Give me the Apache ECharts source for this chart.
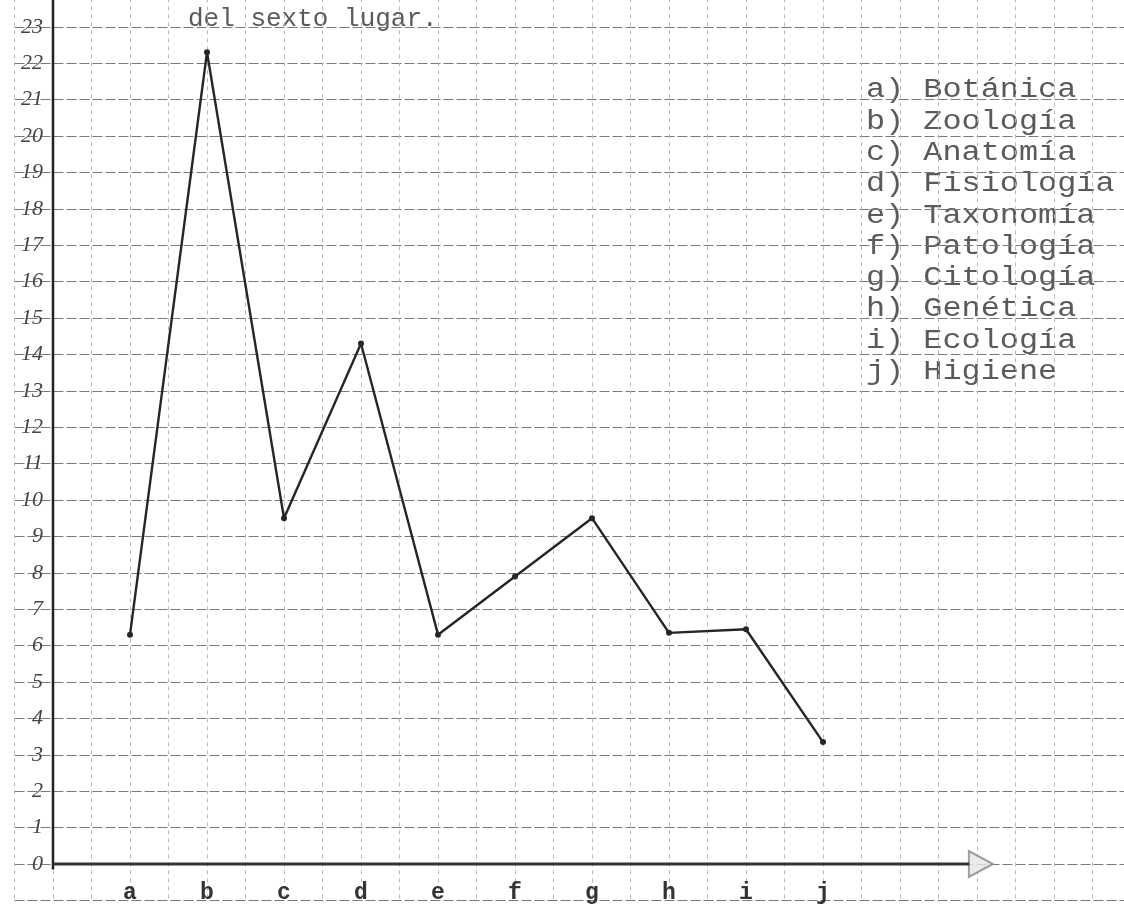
<!DOCTYPE html>
<html>
<head>
<meta charset="utf-8">
<script src="https://cdn.jsdelivr.net/npm/echarts@6/dist/echarts.min.js"></script>
<style>
  html, body { margin: 0; padding: 0; background: #ffffff; }
  #chart { width: 1124px; height: 907px; }
</style>
</head>
<body>
<div id="chart"></div>
<script>
// ---- data ----
const categories = ['a', 'b', 'c', 'd', 'e', 'f', 'g', 'h', 'i', 'j'];
const values = [6.3, 22.3, 9.5, 14.3, 6.3, 7.9, 9.5, 6.35, 6.45, 3.35];
const yTickLabels = ['0','1','2','3','4','5','6','7','8','9','10','11','12','13','14','15','16','17','18','19','20','21','22','23'];
const legendItems = ['a) Botánica', 'b) Zoología', 'c) Anatomía', 'd) Fisiología', 'e) Taxonomía',
                     'f) Patología', 'g) Citología', 'h) Genética', 'i) Ecología', 'j) Higiene'];
const titleText = 'del sexto lugar.';

// ---- chart ----
const chart = echarts.init(document.getElementById('chart'), null, { renderer: 'canvas' });

const lineData = categories.map((c, i) => [i + 1, values[i]]);

const option = {
  backgroundColor: '#ffffff',
  animation: false,
  grid: [
    // background graph paper (covers whole page)
    { left: 14.5, right: -7, top: -9.6, bottom: 6.6, containLabel: false, outerBoundsMode: 'none', z: 0 },
    // main plotting grid, origin at the drawn axes
    { left: 53, right: -7, top: -9.6, bottom: 43, containLabel: false, outerBoundsMode: 'none', z: 2 }
  ],
  xAxis: [
    {
      gridIndex: 0, type: 'value', min: -0.5, max: 14, interval: 0.5,
      axisLine: { show: false }, axisTick: { show: false }, axisLabel: { show: false },
      splitLine: { show: true, lineStyle: { color: '#b8b8b8', width: 1, type: [4, 4] } }
    },
    {
      gridIndex: 1, type: 'value', min: 0, max: 14, interval: 0.5,
      axisLine: { show: false }, axisTick: { show: false },
      splitLine: { show: false },
      axisLabel: {
        margin: 18,
        fontFamily: 'Liberation Mono', fontSize: 23, fontWeight: 'bold', color: '#333',
        formatter: v => (Number.isInteger(v) && v >= 1 && v <= categories.length) ? categories[v - 1] : ''
      }
    }
  ],
  yAxis: [
    {
      gridIndex: 0, type: 'value', min: -1, max: 24, interval: 1,
      axisLine: { show: false }, axisTick: { show: false }, axisLabel: { show: false },
      splitLine: { show: true, lineStyle: { color: '#7a7a7a', width: 1, type: [10, 3] } }
    },
    {
      gridIndex: 1, type: 'value', min: 0, max: 24, interval: 1,
      axisLine: { show: false }, axisTick: { show: false },
      splitLine: { show: false },
      axisLabel: {
        margin: 10,
        fontFamily: 'Liberation Serif', fontStyle: 'italic', fontSize: 22, color: '#444',
        formatter: v => (Number.isInteger(v) && v >= 0 && v < yTickLabels.length) ? yTickLabels[v] : ''
      }
    }
  ],
  series: [
    { // y axis line
      type: 'line', xAxisIndex: 1, yAxisIndex: 1, data: [[0, -0.15], [0, 24]], symbol: 'none', silent: true,
      clip: false, lineStyle: { color: '#222', width: 2.5 }
    },
    { // x axis line
      type: 'line', xAxisIndex: 1, yAxisIndex: 1, data: [[0, 0], [11.9, 0]], symbol: 'none', silent: true,
      clip: false, lineStyle: { color: '#333', width: 3 }
    },
    { // arrow head
      type: 'scatter', xAxisIndex: 1, yAxisIndex: 1, data: [[12.05, 0]], symbol: 'triangle',
      symbolSize: [26, 24], symbolRotate: -90, silent: true, clip: false,
      itemStyle: { color: '#e6e6e6', borderColor: '#888', borderWidth: 2 }
    },
    {
      type: 'line', xAxisIndex: 1, yAxisIndex: 1, data: lineData, symbol: 'circle', symbolSize: 6, showSymbol: true,
      lineStyle: { color: '#262626', width: 2.4 },
      itemStyle: { color: '#262626' }
    }
  ],
  graphic: [
    {
      type: 'text', x: 188, y: 6, silent: true,
      style: { text: titleText, font: '26px "Liberation Mono"', fill: '#5a5a5a' }
    },
    {
      type: 'text', x: 866, y: 74.5, scaleX: 1.18, silent: true,
      style: { text: legendItems.join('\n'), font: '27px "Liberation Mono"', lineHeight: 31.3, fill: '#5a5a5a' }
    }
  ]
};

chart.setOption(option);
</script>
</body>
</html>
